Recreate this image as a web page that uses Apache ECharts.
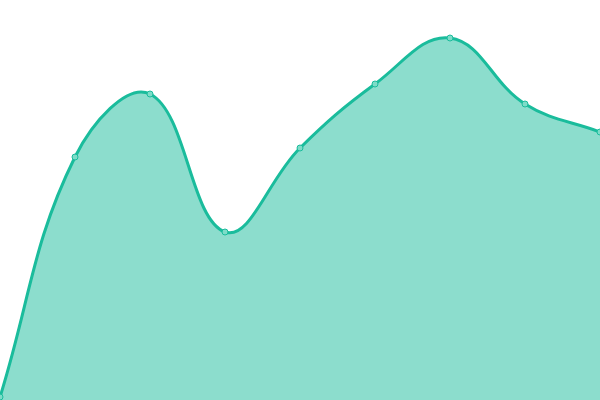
<!DOCTYPE html>
<html><head><meta charset="utf-8">
<script src="https://cdn.jsdelivr.net/npm/echarts@6/dist/echarts.min.js"></script>
<style>html,body{margin:0;padding:0;background:#fff}#c{width:600px;height:400px}</style>
</head><body><div id="c"></div>
<script>
const categories = ['A','B','C','D','E','F','G','H','I'];
const values = [3, 243, 306, 168, 252, 316, 362, 296, 268];
const tension = 0.4;
const chart = echarts.init(document.getElementById('c'));

function buildPath(pts) {
  // spline through points, control points along prev->next (tension-based)
  const cps = pts.map((p, i) => {
    const prev = pts[i - 1] || p, next = pts[i + 1] || p;
    const d01 = Math.hypot(p[0] - prev[0], p[1] - prev[1]);
    const d12 = Math.hypot(next[0] - p[0], next[1] - p[1]);
    const s = d01 + d12 || 1;
    const fa = tension * d01 / s, fb = tension * d12 / s;
    return {
      prev: [p[0] - fa * (next[0] - prev[0]), p[1] - fa * (next[1] - prev[1])],
      next: [p[0] + fb * (next[0] - prev[0]), p[1] + fb * (next[1] - prev[1])]
    };
  });
  let d = 'M' + pts[0][0] + ' ' + pts[0][1];
  for (let i = 1; i < pts.length; i++) {
    const a = cps[i - 1].next, b = cps[i].prev, p = pts[i];
    d += ' C' + a[0] + ' ' + a[1] + ' ' + b[0] + ' ' + b[1] + ' ' + p[0] + ' ' + p[1];
  }
  return d;
}

chart.setOption({
  animation: false,
  grid: {left: 0, right: 0, top: 0, bottom: 0},
  xAxis: {type: 'category', data: categories, boundaryGap: false, show: false},
  yAxis: {type: 'value', min: 0, max: 400, show: false},
  series: [{
    type: 'custom',
    clip: false,
    data: values.map((v, i) => [i, v]),
    renderItem: function (params, api) {
      if (params.dataIndex !== 0) return null;
      const pts = values.map((v, i) => api.coord([i, v]));
      const line = buildPath(pts);
      const base = api.coord([0, 0])[1];
      const area = line + ' L' + pts[pts.length - 1][0] + ' ' + base + ' L' + pts[0][0] + ' ' + base + ' Z';
      return {
        type: 'group',
        children: [
          {type: 'path', shape: {pathData: area}, style: {fill: 'rgba(26,188,156,0.5)', stroke: null}},
          {type: 'path', shape: {pathData: line}, style: {fill: null, stroke: '#1abc9c', lineWidth: 3}}
        ]
      };
    },
    z: 1
  }, {
    type: 'line', data: values, z: 3,
    symbol: 'circle', symbolSize: 6, showSymbol: true,
    lineStyle: {width: 0, opacity: 0},
    itemStyle: {color: '#7ddcc8', borderColor: '#1abc9c', borderWidth: 1}
  }]
});
</script></body></html>
